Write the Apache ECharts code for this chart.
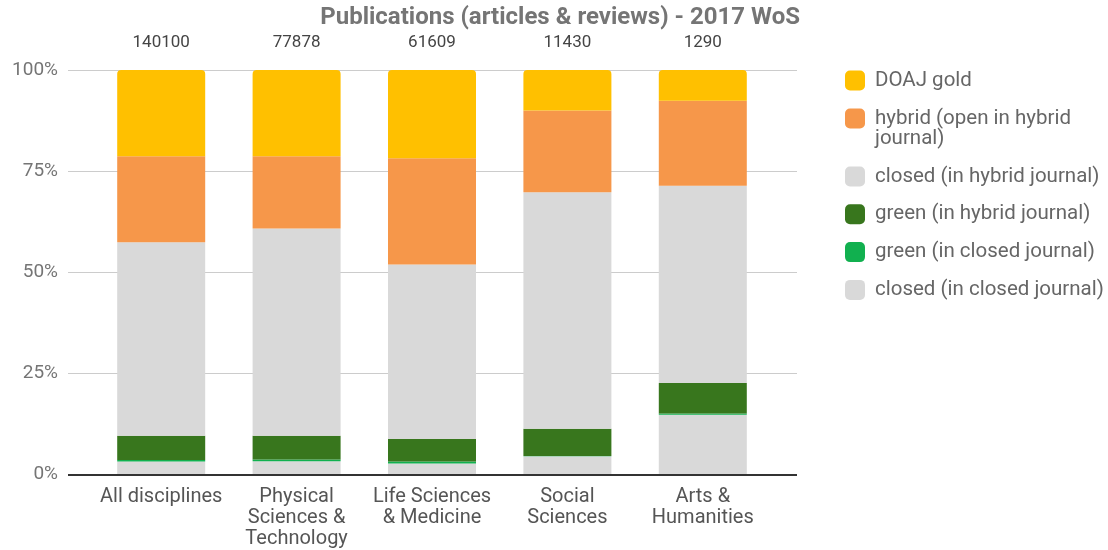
<!DOCTYPE html>
<html>
<head>
<meta charset="utf-8">
<script src="https://cdn.jsdelivr.net/npm/echarts@6/dist/echarts.min.js"></script>
<style>
  html, body { margin: 0; padding: 0; background: #fff; }
  #chart { width: 1108px; height: 550px; }
</style>
</head>
<body>
<div id="chart"></div>
<script>
// Share of WoS 2017 publications (articles & reviews) by access type, per discipline
const categories = ['All disciplines', 'Physical\nSciences &\nTechnology', 'Life Sciences\n& Medicine', 'Social\nSciences', 'Arts &\nHumanities'];
const totals = [140100, 77878, 61609, 11430, 1290];

// Percentages, stacked bottom to top
const closedInClosed = [3.2, 3.3, 2.7, 4.5, 14.8];
const greenInClosed  = [0.4, 0.4, 0.5, 0.1, 0.3];
const greenInHybrid  = [6.0, 5.9, 5.6, 6.7, 7.5];
const closedInHybrid = [47.8, 51.2, 43.1, 58.5, 48.8];
const hybridOpen     = [21.3, 17.9, 26.3, 20.2, 21.0];
const doajGold       = [21.3, 21.3, 21.8, 10.0, 7.6];

const yTicks = [0, 25, 50, 75, 100];

const FONT = 'Roboto, "Noto Sans", sans-serif';
const HYBRID = 'hybrid (open in hybrid journal)';
const chart = echarts.init(document.getElementById('chart'));

function seg(name, data, color, extra) {
  return Object.assign({
    name: name,
    type: 'bar',
    stack: 'share',
    xAxisIndex: 1,
    yAxisIndex: 1,
    barWidth: 88,
    data: data,
    itemStyle: { color: color },
    emphasis: { disabled: true }
  }, extra || {});
}

const legendText = { fontFamily: FONT, fontSize: 20.5, color: '#666', lineHeight: 20, padding: [0, 0, 0, 5] };
const legendBase = {
  orient: 'vertical',
  left: 840,
  itemWidth: 20,
  itemHeight: 20,
  icon: 'roundRect',
  textStyle: legendText
};

chart.setOption({
  animation: false,
  textStyle: { fontFamily: FONT },
  title: {
    text: 'Publications (articles & reviews) - 2017 WoS',
    right: 303,
    top: 1,
    textStyle: { fontFamily: FONT, fontSize: 24, fontWeight: 'bold', color: '#757575' }
  },
  legend: [
    Object.assign({}, legendBase, {
      top: 65,
      itemGap: -3,
      data: ['DOAJ gold', HYBRID],
      // two-line label: a blank leading line keeps the swatch level with the first text line
      formatter: function (n) { return n === HYBRID ? '\nhybrid (open in hybrid\njournal)' : n; }
    }),
    Object.assign({}, legendBase, {
      top: 161,
      itemGap: 16.8,
      data: ['closed (in hybrid journal)', 'green (in hybrid journal)',
             'green (in closed journal)', 'closed (in closed journal)']
    })
  ],
  grid: [
    // full-width frame: gridlines and baseline
    { left: 68, right: 311, top: 70, bottom: 75.5 },
    // bar band
    { left: 93.5, right: 337.5, top: 70, bottom: 75.5 }
  ],
  xAxis: [
    { gridIndex: 0, type: 'category', data: categories, show: false },
    {
      gridIndex: 1,
      type: 'category',
      data: categories,
      axisLine: { show: false },
      axisTick: { show: false },
      axisLabel: { fontFamily: FONT, fontSize: 20, color: '#555', lineHeight: 21, margin: 12, interval: 0 }
    }
  ],
  yAxis: [
    {
      gridIndex: 0,
      type: 'value',
      min: yTicks[0],
      max: yTicks[yTicks.length - 1],
      interval: 25,
      axisLine: { show: false },
      axisTick: { show: false },
      axisLabel: { fontFamily: FONT, fontSize: 19, color: '#757575', margin: 10, formatter: '{value}%' },
      splitLine: { lineStyle: { color: '#cccccc', width: 1 } }
    },
    { gridIndex: 1, type: 'value', min: 0, max: 100, show: false }
  ],
  series: [
    // baseline drawn in the frame grid
    {
      type: 'line', xAxisIndex: 0, yAxisIndex: 0, data: [], silent: true,
      markLine: {
        symbol: 'none', silent: true, label: { show: false },
        lineStyle: { color: '#333', width: 2, type: 'solid' },
        data: [{ yAxis: 0 }]
      }
    },
    seg('closed (in closed journal)', closedInClosed, '#d9d9d9'),
    seg('green (in closed journal)', greenInClosed, '#11b04f'),
    seg('green (in hybrid journal)', greenInHybrid, '#38761d'),
    seg('closed (in hybrid journal)', closedInHybrid, '#d9d9d9'),
    seg(HYBRID, hybridOpen, '#f6974a'),
    seg('DOAJ gold', doajGold, '#ffc000', {
      itemStyle: { color: '#ffc000', borderRadius: [4, 4, 0, 0] },
      label: {
        show: true,
        position: 'top',
        distance: 18.5,
        fontFamily: FONT,
        fontSize: 17,
        color: '#444',
        formatter: function (p) { return String(totals[p.dataIndex]); }
      }
    })
  ]
});
</script>
</body>
</html>
